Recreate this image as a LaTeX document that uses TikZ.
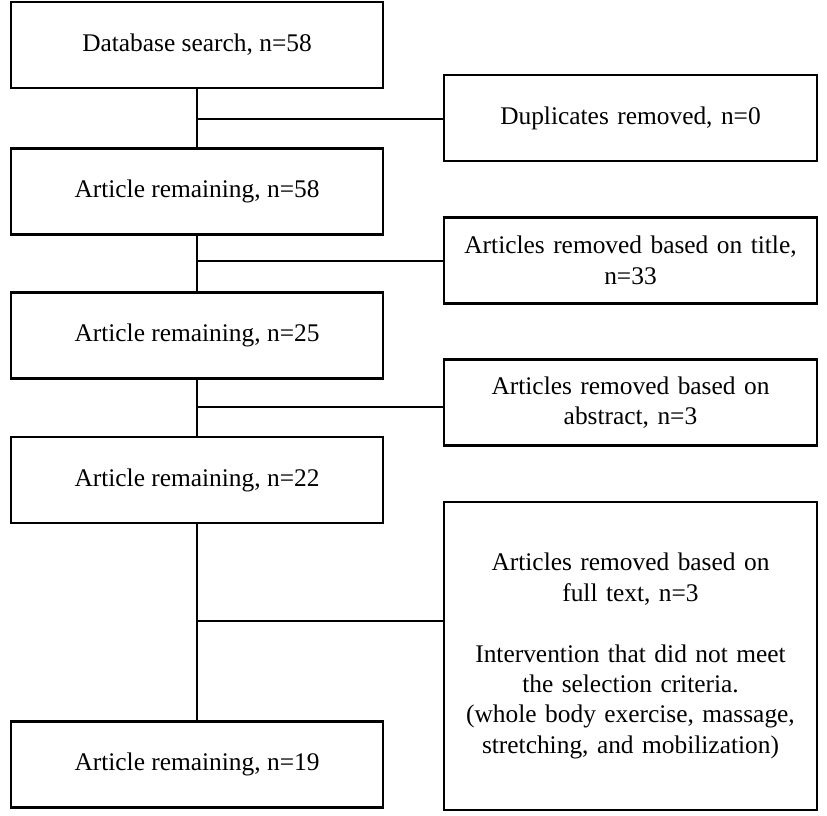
\documentclass[tikz,border=0pt]{standalone}
\usepackage{fontspec}
\setmainfont{Liberation Serif}
\begin{document}
\begin{tikzpicture}[x=1pt,y=-1pt,
  box/.style={draw=black, line width=2.4pt, rectangle, inner sep=0pt, align=center,
    font=\fontsize{25.4}{30.4}\selectfont},
  lbox/.style={box, minimum width=372pt, minimum height=86pt},
  rbox/.style={box, minimum width=373pt, minimum height=86pt, text width=355pt},
  conn/.style={draw=black, line width=2.6pt}]
\useasboundingbox (0,0) rectangle (827,816);
\node[lbox] (b1) at (197,45) {Database search, n=58};
\node[lbox] (b2) at (197,191.5) {Article remaining, n=58};
\node[lbox] (b3) at (197,335.5) {Article remaining, n=25};
\node[lbox] (b4) at (197,480) {Article remaining, n=22};
\node[lbox] (b5) at (197,764.5) {Article remaining, n=19};
\node[rbox] (r1) at (630.5,118) {Duplicates removed, n=0};
\node[rbox] (r2) at (630.5,260.5) {Articles removed based on title,\\ n=33};
\node[rbox] (r3) at (630.5,402.5) {Articles removed based on\\ abstract, n=3};
\node[rbox, minimum height=308pt] (r4) at (630.5,656) {Articles removed based on\\ full text, n=3\\[30.4pt] Intervention that did not meet\\ the selection criteria.\\ (whole body exercise, massage,\\ stretching, and mobilization)};
\draw[conn] (b1.south) -- (b2.north);
\draw[conn] (b2.south) -- (b3.north);
\draw[conn] (b3.south) -- (b4.north);
\draw[conn] (b4.south) -- (b5.north);
\coordinate (j1) at (197,119);
\coordinate (j2) at (197,261);
\coordinate (j3) at (197,407);
\coordinate (j4) at (197,621);
\draw[conn] (j1) -- (j1 -| r1.west);
\draw[conn] (j2) -- (j2 -| r2.west);
\draw[conn] (j3) -- (j3 -| r3.west);
\draw[conn] (j4) -- (j4 -| r4.west);
\end{tikzpicture}
\end{document}
